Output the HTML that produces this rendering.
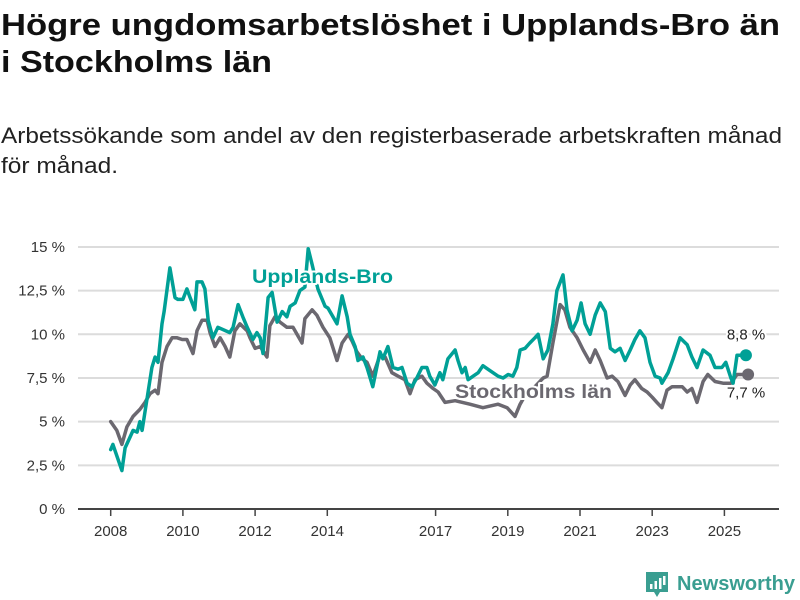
<!DOCTYPE html>
<html><head><meta charset="utf-8">
<style>
html,body{margin:0;padding:0;background:#fff;}
svg{display:block;font-family:"Liberation Sans",sans-serif;}
.halo{paint-order:stroke;stroke:#fff;stroke-width:4px;stroke-linejoin:round;}
</style></head>
<body>
<svg id="chart" width="800" height="600" viewBox="0 0 800 600">
  <text x="1" y="35" font-size="31" font-weight="bold" fill="#111" textLength="779" lengthAdjust="spacingAndGlyphs">Högre ungdomsarbetslöshet i Upplands-Bro än</text>
  <text x="1" y="72" font-size="31" font-weight="bold" fill="#111" textLength="271" lengthAdjust="spacingAndGlyphs">i Stockholms län</text>
  <text x="1" y="143" font-size="22" fill="#222" textLength="781" lengthAdjust="spacingAndGlyphs">Arbetssökande som andel av den registerbaserade arbetskraften månad</text>
  <text x="1" y="173" font-size="22" fill="#222" textLength="117" lengthAdjust="spacingAndGlyphs">för månad.</text>
  <g id="grid"></g>
  <g id="yticks"></g>
  <g id="xaxis"></g>
  <g id="series"></g>
  <g id="labels"></g>
  <g>
    <path d="M646 572 h22 v20 h-8 l-3 5 l-3 -5 h-8 z" fill="#3a9e91"/>
    <rect x="650" y="584" width="2.5" height="5" fill="#fff"/>
    <rect x="654.5" y="581" width="2.5" height="8" fill="#fff"/>
    <rect x="659" y="578" width="2.5" height="11" fill="#fff"/>
    <rect x="663" y="576" width="2.5" height="9" fill="#fff"/>
    <text x="677" y="590" font-size="20" font-weight="bold" fill="#3a9e91" textLength="118" lengthAdjust="spacingAndGlyphs">Newsworthy</text>
  </g>
</svg>
<script>
const yTicks = [0, 2.5, 5, 7.5, 10, 12.5, 15];
const yTickLabels = ["0 %", "2,5 %", "5 %", "7,5 %", "10 %", "12,5 %", "15 %"];
const xTicks = [2008, 2010, 2012, 2014, 2017, 2019, 2021, 2023, 2025];
const brDates = [2008.0,2008.06,2008.31,2008.40,2008.62,2008.73,2008.81,2008.87,2009.14,2009.23,2009.31,2009.42,2009.48,2009.64,2009.78,2009.86,2010.0,2010.11,2010.20,2010.33,2010.39,2010.53,2010.61,2010.70,2010.83,2010.97,2011.30,2011.39,2011.53,2011.66,2011.78,2011.94,2012.05,2012.14,2012.22,2012.36,2012.47,2012.61,2012.75,2012.88,2012.97,2013.11,2013.24,2013.38,2013.47,2013.58,2013.74,2013.94,2014.02,2014.27,2014.41,2014.55,2014.63,2014.77,2014.85,2014.99,2015.10,2015.26,2015.46,2015.54,2015.68,2015.82,2015.96,2016.07,2016.21,2016.34,2016.48,2016.62,2016.76,2016.84,2016.98,2017.12,2017.20,2017.34,2017.54,2017.62,2017.73,2017.82,2017.90,2018.04,2018.18,2018.31,2018.45,2018.59,2018.73,2018.87,2019.01,2019.14,2019.25,2019.34,2019.48,2019.61,2019.75,2019.84,2019.98,2020.11,2020.25,2020.36,2020.53,2020.64,2020.78,2020.92,2021.03,2021.14,2021.28,2021.42,2021.56,2021.70,2021.84,2021.97,2022.11,2022.25,2022.39,2022.52,2022.66,2022.80,2022.94,2023.08,2023.22,2023.27,2023.44,2023.58,2023.77,2023.97,2024.10,2024.24,2024.41,2024.60,2024.74,2024.93,2025.04,2025.18,2025.24,2025.35,2025.43];
const brValues = [3.4,3.7,2.2,3.5,4.5,4.4,5.0,4.5,8.1,8.7,8.4,10.6,11.3,13.8,12.1,12.0,12.0,12.6,12.1,11.4,13.0,13.0,12.6,10.8,9.8,10.4,10.1,10.4,11.7,11.0,10.4,9.7,10.1,9.8,8.9,12.1,12.4,10.7,11.3,11.0,11.6,11.8,12.5,12.7,14.9,14.0,12.6,11.6,11.5,10.6,12.2,11.0,10.0,9.3,8.5,8.7,8.1,7.0,9.0,8.6,9.3,8.1,8.0,8.1,7.2,7.0,7.5,8.1,8.1,7.6,7.1,7.8,7.4,8.6,9.1,8.5,7.8,8.1,7.4,7.6,7.8,8.2,8.0,7.8,7.6,7.5,7.7,7.6,8.1,9.1,9.2,9.5,9.8,10.0,8.6,9.1,10.6,12.5,13.4,11.4,10.2,10.8,11.8,10.6,10.0,11.1,11.8,11.3,9.2,9.0,9.2,8.5,9.1,9.7,10.2,9.8,8.4,7.6,7.5,7.2,7.8,8.6,9.8,9.4,8.7,8.1,9.1,8.8,8.1,8.1,8.4,7.5,7.2,8.8,8.8];
const stDates = [2008.0,2008.17,2008.31,2008.45,2008.62,2008.81,2008.95,2009.09,2009.23,2009.31,2009.42,2009.56,2009.70,2009.84,2009.98,2010.11,2010.28,2010.39,2010.53,2010.67,2010.75,2010.89,2011.03,2011.17,2011.30,2011.44,2011.58,2011.78,2011.86,2012.00,2012.14,2012.33,2012.41,2012.55,2012.69,2012.88,2013.05,2013.30,2013.38,2013.58,2013.71,2013.88,2014.07,2014.27,2014.41,2014.58,2014.69,2014.82,2014.96,2015.10,2015.26,2015.46,2015.60,2015.79,2015.96,2016.15,2016.29,2016.43,2016.62,2016.76,2016.93,2017.07,2017.26,2017.54,2017.95,2018.31,2018.73,2018.98,2019.20,2019.34,2019.48,2019.75,2019.98,2020.09,2020.25,2020.45,2020.58,2020.72,2020.92,2021.09,2021.28,2021.42,2021.56,2021.75,2021.89,2022.05,2022.25,2022.39,2022.52,2022.71,2022.86,2023.00,2023.13,2023.27,2023.41,2023.55,2023.83,2023.97,2024.10,2024.24,2024.41,2024.54,2024.74,2024.96,2025.18,2025.35,2025.49];
const stValues = [5.0,4.5,3.7,4.7,5.3,5.7,6.1,6.6,6.8,6.6,8.4,9.3,9.8,9.8,9.7,9.7,8.9,10.2,10.8,10.8,10.1,9.3,9.8,9.3,8.7,10.2,10.6,10.2,9.8,9.2,9.3,8.7,10.5,11.0,10.7,10.4,10.4,9.5,10.9,11.4,11.1,10.4,9.8,8.5,9.5,10.0,9.6,9.0,8.6,8.4,7.6,8.8,8.7,7.8,7.6,7.4,6.6,7.4,7.6,7.2,6.9,6.7,6.1,6.2,6.0,5.8,6.0,5.8,5.3,6.0,6.5,7.0,7.5,7.6,9.5,11.7,11.4,10.4,9.8,9.1,8.4,9.1,8.5,7.5,7.6,7.3,6.5,7.1,7.4,6.9,6.7,6.4,6.1,5.8,6.8,7.0,7.0,6.7,6.9,6.1,7.3,7.7,7.3,7.2,7.2,7.7,7.7];

const NS = "http://www.w3.org/2000/svg";
const X0 = 110.7, PX_PER_YEAR = 36.1, Y0 = 509, PX_PER_PCT = 17.47;
function xs(yr){ return X0 + (yr - 2008) * PX_PER_YEAR; }
function ys(v){ return Y0 - v * PX_PER_PCT; }
function mk(tag, attrs, parent){ const e = document.createElementNS(NS, tag); for (const k in attrs) e.setAttribute(k, attrs[k]); parent.appendChild(e); return e; }

const grid = document.getElementById('grid'), yt = document.getElementById('yticks'), xa = document.getElementById('xaxis');
yTicks.forEach((v, i) => {
  if (v > 0) {
    const l = mk('line', {x1: 78, x2: 779, y1: ys(v), y2: ys(v), stroke: '#dcdcdc', 'stroke-width': 2}, grid);
    
    
  }
  const t = mk('text', {x: 65, y: ys(v) + 5, 'font-size': 15, fill: '#333', 'text-anchor': 'end'}, yt);
  t.textContent = yTickLabels[i];
  
  
});
const axis = mk('line', {x1: 78, x2: 779, y1: Y0, y2: Y0, stroke: '#444', 'stroke-width': 2}, xa);


xTicks.forEach(yr => {
  const tk = mk('line', {x1: xs(yr), x2: xs(yr), y1: Y0, y2: Y0 + 7, stroke: '#444', 'stroke-width': 1.5}, xa);
  
  
  const t = mk('text', {x: xs(yr), y: 536, 'font-size': 15, fill: '#333', 'text-anchor': 'middle'}, xa);
  t.textContent = String(yr);
  
  
});

const ser = document.getElementById('series');
function drawLine(dates, vals, color, name){
  const n = Math.min(dates.length, vals.length) - 1;
  let d = '';
  for (let i = 0; i <= n; i++) d += (i ? ' L' : 'M') + xs(dates[i]).toFixed(1) + ' ' + ys(vals[i]).toFixed(1);
  const p = mk('path', {d: d, fill: 'none', stroke: color, 'stroke-width': 3.5, 'stroke-linejoin': 'round', 'stroke-linecap': 'round'}, ser);
  
  
  const c = mk('circle', {cx: xs(dates[n]) + 6, cy: ys(vals[n]), r: 6, fill: color}, ser);
  
  
}
drawLine(stDates, stValues, '#6b6870', 'stockholms-lan');
drawLine(brDates, brValues, '#00a096', 'upplands-bro');

const lab = document.getElementById('labels');
function txt(x, y, s, attrs, name){
  const t = mk('text', Object.assign({x: x, y: y}, attrs), lab);
  t.textContent = s;
  
  
}
txt(252, 283, 'Upplands-Bro', {'font-size': 19, 'font-weight': 'bold', fill: '#00a096', class: 'halo', textLength: 141, lengthAdjust: 'spacingAndGlyphs'}, 'upplands-bro-label');
txt(455, 398, 'Stockholms län', {'font-size': 19, 'font-weight': 'bold', fill: '#6b6870', class: 'halo', textLength: 157, lengthAdjust: 'spacingAndGlyphs'}, 'stockholms-lan-label');
const nB = brValues.length - 1, nS = stValues.length - 1;
txt(746, ys(brValues[nB]) - 16, brValues[nB].toFixed(1).replace('.', ',') + ' %', {'font-size': 15, fill: '#222', 'text-anchor': 'middle', class: 'halo'}, 'upplands-bro-value-label');
txt(746, ys(stValues[nS]) + 23, stValues[nS].toFixed(1).replace('.', ',') + ' %', {'font-size': 15, fill: '#222', 'text-anchor': 'middle', class: 'halo'}, 'stockholms-lan-value-label');
</script>
</body></html>
